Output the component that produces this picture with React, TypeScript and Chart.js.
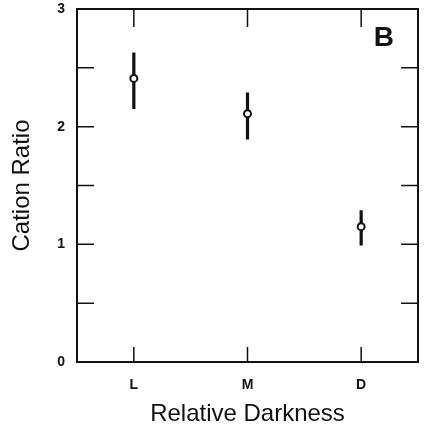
import React, { useEffect, useRef } from "react";
import { Chart, registerables } from "chart.js";

Chart.register(...registerables);

const categories = ["L", "M", "D"];
const categoryPositions = [1, 2, 3];
const means = [2.41, 2.11, 1.15];
const upper = [2.63, 2.29, 1.29];
const lower = [2.15, 1.89, 0.99];
const yTickValues = [0, 0.5, 1, 1.5, 2, 2.5, 3];
const yLabelValues = [0, 1, 2, 3];

const FONT = "'Liberation Sans', Arial, Helvetica, sans-serif";
const INK = "#111111";

const framePlugin = {
  id: "frameAndTicks",
  beforeDatasetsDraw(chart: any) {
    const { ctx, chartArea, scales } = chart;
    const { left, right, top, bottom } = chartArea;
    const x = scales.x;
    const y = scales.y;
    ctx.save();
    ctx.strokeStyle = INK;
    // frame
    ctx.lineWidth = 2;
    ctx.beginPath();
    ctx.moveTo(left, top);
    ctx.lineTo(right, top);
    ctx.lineTo(right, bottom);
    ctx.lineTo(left, bottom);
    ctx.closePath();
    ctx.stroke();
    // ticks
    ctx.lineWidth = 1.5;
    ctx.beginPath();
    for (const v of yTickValues) {
      if (v === 0 || v === 3) continue;
      const py = y.getPixelForValue(v);
      ctx.moveTo(left, py);
      ctx.lineTo(left + 17, py);
      ctx.moveTo(right, py);
      ctx.lineTo(right - 17, py);
    }
    for (const v of categoryPositions) {
      const px = x.getPixelForValue(v);
      ctx.moveTo(px, bottom);
      ctx.lineTo(px, bottom - 15);
      ctx.moveTo(px, top);
      ctx.lineTo(px, top + 18);
    }
    ctx.stroke();
    // error bars
    ctx.lineWidth = 3.2;
    ctx.beginPath();
    for (let i = 0; i < categoryPositions.length; i++) {
      const px = x.getPixelForValue(categoryPositions[i]);
      ctx.moveTo(px, y.getPixelForValue(upper[i]));
      ctx.lineTo(px, y.getPixelForValue(lower[i]));
    }
    ctx.stroke();
    // panel letter
    ctx.fillStyle = INK;
    ctx.font = `bold 28px ${FONT}`;
    ctx.textAlign = "center";
    ctx.textBaseline = "middle";
    ctx.fillText("B", left + (right - left) * 0.9, top + 29);
    ctx.restore();
  },
};

export default function App() {
  const ref = useRef<HTMLCanvasElement | null>(null);

  useEffect(() => {
    if (!ref.current) return;
    const chart = new Chart(ref.current, {
      type: "scatter",
      data: {
        datasets: [
          {
            data: categoryPositions.map((c, i) => ({ x: c, y: means[i] })),
            pointRadius: 3.5,
            pointBorderWidth: 2,
            pointBackgroundColor: "#ffffff",
            pointBorderColor: INK,
            showLine: false,
          },
        ],
      },
      options: {
        animation: false,
        responsive: true,
        maintainAspectRatio: false,
        layout: { padding: { left: 0, top: 9, right: 7, bottom: 0 } },
        plugins: {
          legend: { display: false },
          tooltip: { enabled: false },
        },
        scales: {
          x: {
            type: "linear",
            min: 0.5,
            max: 3.5,
            afterBuildTicks: (s: any) => {
              s.ticks = categoryPositions.map((v) => ({ value: v }));
            },
            afterFit: (s: any) => {
              s.height = 69;
              s.paddingLeft = 0;
              s.paddingRight = 0;
            },
            grid: { display: false, drawTicks: false },
            border: { display: false },
            ticks: {
              color: INK,
              padding: 15,
              font: { family: FONT, size: 14, weight: "bold" },
              callback: (v: any) => {
                const i = categoryPositions.indexOf(Number(v));
                return i >= 0 ? categories[i] : "";
              },
            },
            title: {
              display: true,
              text: "Relative Darkness",
              color: INK,
              font: { family: FONT, size: 24 },
              padding: { top: 0, bottom: 2 },
            },
          },
          y: {
            min: 0,
            max: 3,
            afterBuildTicks: (s: any) => {
              s.ticks = yLabelValues.map((v) => ({ value: v }));
            },
            afterFit: (s: any) => {
              s.width = 77;
              s.paddingTop = 0;
              s.paddingBottom = 0;
            },
            grid: { display: false, drawTicks: false },
            border: { display: false },
            ticks: {
              color: INK,
              padding: 12,
              font: { family: FONT, size: 14, weight: "bold" },
              callback: (v: any) => String(v),
            },
            title: {
              display: true,
              text: "Cation Ratio",
              color: INK,
              font: { family: FONT, size: 24 },
              padding: { top: 8, bottom: 0 },
            },
          },
        },
      },
      plugins: [framePlugin],
    });
    return () => chart.destroy();
  }, []);

  return (
    <div style={{ position: "fixed", left: 0, top: 0, width: 425, height: 431, background: "#fff" }}>
      <canvas ref={ref} />
    </div>
  );
}
